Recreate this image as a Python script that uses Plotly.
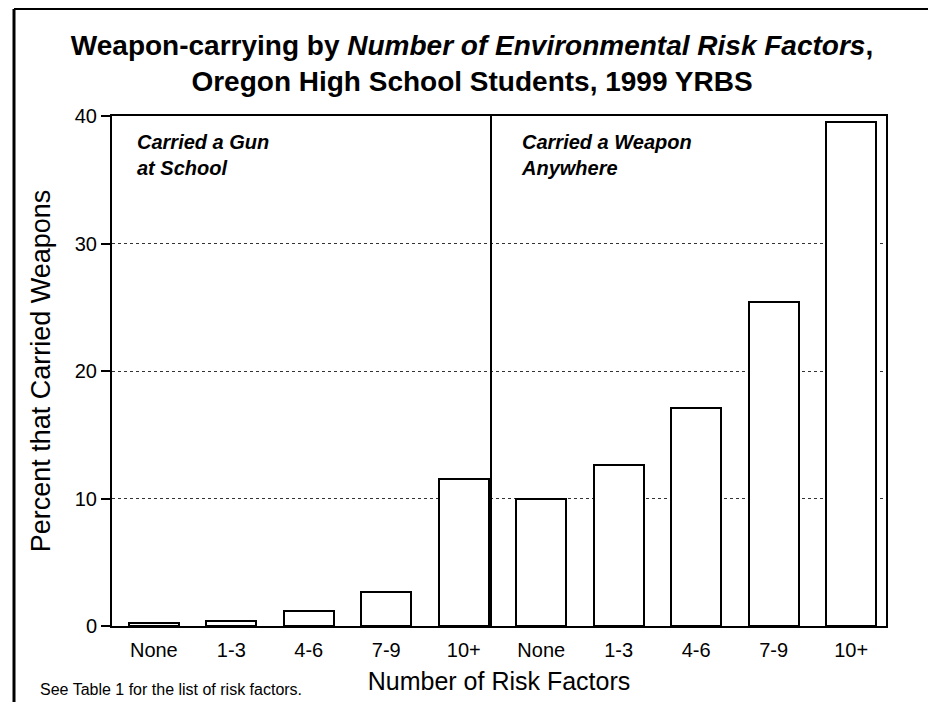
import plotly.graph_objects as go

categories = ["None", "1-3", "4-6", "7-9", "10+"]
gun_at_school = [0.2, 0.4, 1.2, 2.7, 11.5]
weapon_anywhere = [10.0, 12.6, 17.1, 25.4, 39.5]
y_ticks = [0, 10, 20, 30, 40]

n = len(categories)
x_gun = list(range(n))
x_weap = list(range(n, 2 * n))

OFF = 8  # page body margin offset
W, H = 936 - OFF, 702 - OFF
# plot area in page pixels: x 112..886, y 116..626
L, R, T, B = 112 - OFF, 936 - 886, 116 - OFF, 702 - 626
pw = W - L - R
ph = H - T - B

def px(xp):
    return (xp - OFF - L) / pw

def py(yp):
    return (H - B - (yp - OFF)) / ph

bar_style = dict(marker=dict(color="white", line=dict(color="black", width=2)),
                 width=0.645, showlegend=False, hoverinfo="x+y")

fig = go.Figure()
fig.add_trace(go.Bar(x=x_gun, y=gun_at_school, **bar_style))
fig.add_trace(go.Bar(x=x_weap, y=weapon_anywhere, **bar_style))

font_family = "Liberation Sans, Arial, sans-serif"

fig.update_layout(
    width=W, height=H,
    margin=dict(l=L, r=R, t=T, b=B, pad=0),
    paper_bgcolor="white", plot_bgcolor="white",
    font=dict(family=font_family, color="black"),
    title=dict(
        text="<b>Weapon-carrying by <i>Number of Environmental Risk Factors</i>,</b><br>"
             "<b>Oregon High School Students, 1999 YRBS</b>",
        x=0.5, xanchor="center", y=1 - 47 / H, yanchor="top",
        font=dict(size=28, family=font_family, color="black"),
    ),
    xaxis=dict(
        range=[-0.54, 9.45],
        tickmode="array",
        tickvals=x_gun + x_weap,
        ticktext=categories + categories,
        tickfont=dict(size=20),
        ticks="", ticklabelstandoff=5, showgrid=False, zeroline=False,
        showline=True, linecolor="black", linewidth=2, mirror=True,
        title=dict(text="Number of Risk Factors", font=dict(size=25), standoff=12),
    ),
    yaxis=dict(
        range=[0, 40],
        tickmode="array", tickvals=y_ticks,
        tickfont=dict(size=20),
        ticks="outside", ticklen=9, tickwidth=1.5, tickcolor="black",
        showgrid=True, gridcolor="#333333", griddash="dot", gridwidth=1,
        zeroline=False,
        showline=True, linecolor="black", linewidth=2, mirror=True,
        title=dict(text="Percent that Carried Weapons", font=dict(size=27), standoff=16),
    ),
    bargap=0,
)

# divider between the two panels
fig.add_shape(type="line", xref="paper", yref="paper",
              x0=px(491), x1=px(491), y0=0, y1=1,
              line=dict(color="black", width=2))

# page border lines
fig.add_shape(type="line", xref="paper", yref="paper",
              x0=px(14), x1=px(14), y0=py(9), y1=py(702),
              line=dict(color="black", width=3))
fig.add_shape(type="line", xref="paper", yref="paper",
              x0=px(14), x1=px(934), y0=py(9), y1=py(9),
              line=dict(color="black", width=2))

fig.add_annotation(xref="paper", yref="paper", x=px(135), y=py(129),
                   xanchor="left", yanchor="top", align="left", showarrow=False,
                   text="<b><i>Carried a Gun<br>at School</i></b>",
                   font=dict(size=20, family=font_family, color="black"))
fig.add_annotation(xref="paper", yref="paper", x=px(519), y=py(129),
                   xanchor="left", yanchor="top", align="left", showarrow=False,
                   text="<b><i>Carried a Weapon<br>Anywhere</i></b>",
                   font=dict(size=20, family=font_family, color="black"))
fig.add_annotation(xref="paper", yref="paper", x=px(38), y=py(689),
                   xanchor="left", yanchor="middle", showarrow=False,
                   text="See Table 1 for the list of risk factors.",
                   font=dict(size=16, family=font_family, color="black"))

fig.write_html("out.html")
